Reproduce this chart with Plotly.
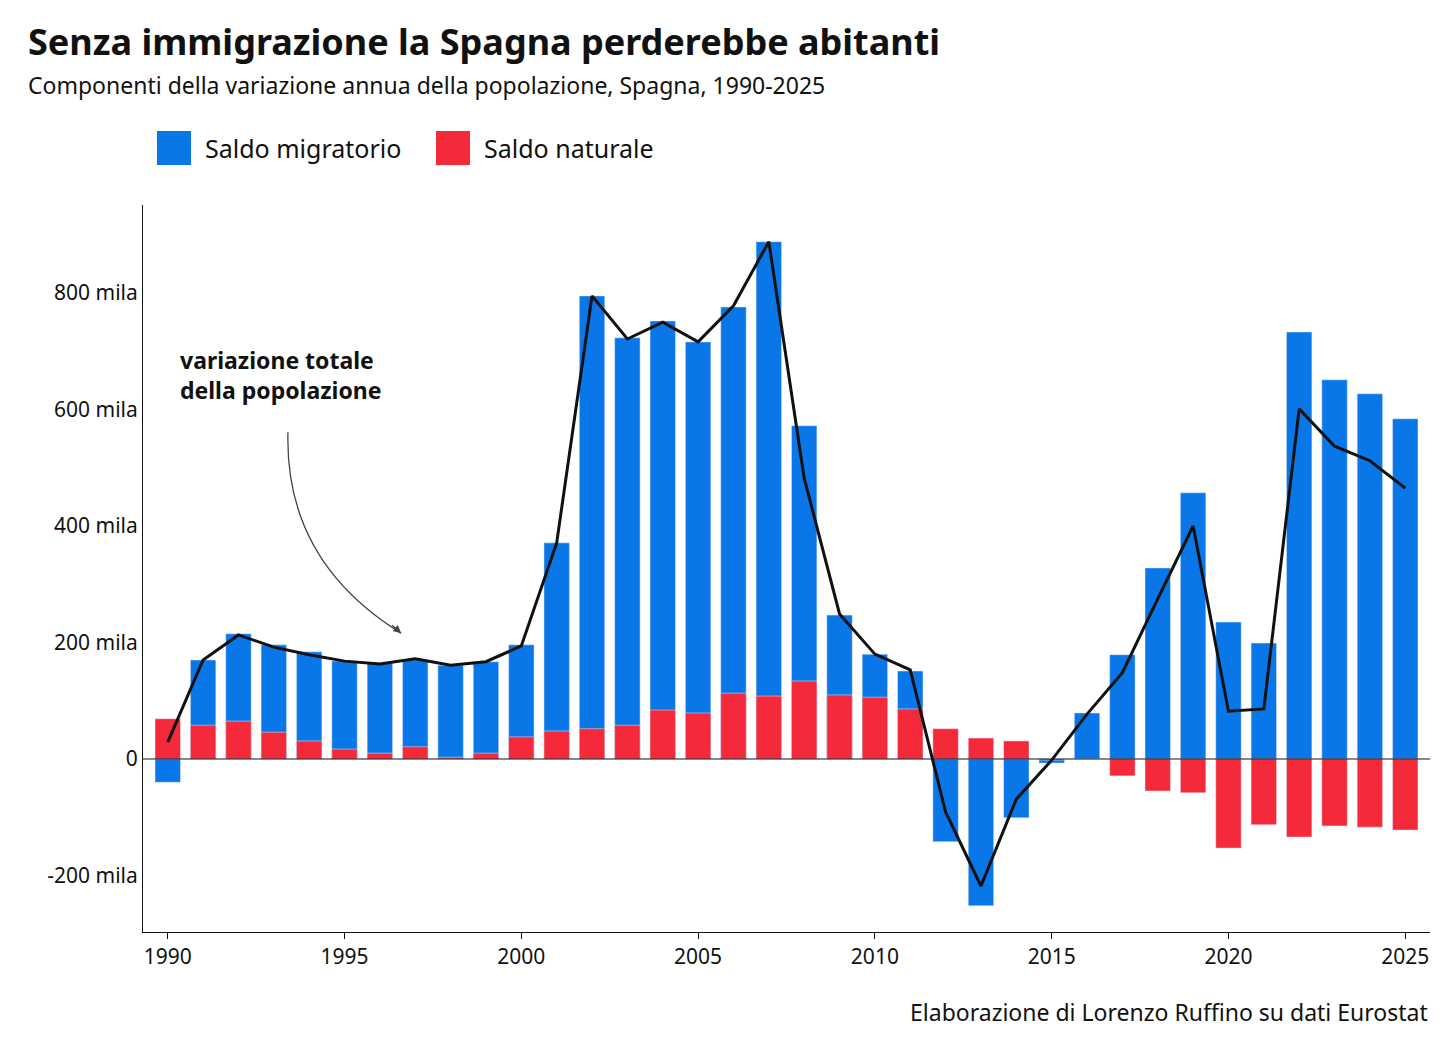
import plotly.graph_objects as go

years = list(range(1990, 2026))
migr = [-40,170,215,196,184,168,165,170,161,167,196,371,795,723,752,716,776,888,572,247,180,151,-142,-252,-101,-7,79,179,328,457,235,199,733,651,627,584]
natural = [69,58,65,46,31,17,10,21,3,10,38,48,52,58,84,79,113,108,134,110,106,86,52,36,31,-2,0,-29,-55,-58,-153,-113,-134,-115,-117,-122]
total = [29,170,213,192,179,168,163,172,161,167,194,371,795,721,750,716,778,888,482,249,180,153,-91,-218,-69,-2,77,148,275,400,82,86,601,537,512,465]
yticks = [-200, 0, 200, 400, 600, 800]
ylabels = ["-200 mila", "0", "200 mila", "400 mila", "600 mila", "800 mila"]
xticks = [1990, 1995, 2000, 2005, 2010, 2015, 2020, 2025]

F = "Noto Sans"
BLUE, RED = "#0a77e8", "#f42a3b"
W, H = 1456, 1052
L, R, T, B = 135, 34, 197, 128
pw, ph = W - L - R, H - T - B

def px(x): return (x - 8 - L) / pw
def py(y): return 1 - (y - 8 - T) / ph

fig = go.Figure()
fig.add_bar(x=years, y=migr, name="Saldo migratorio", marker_color=BLUE, width=0.72, showlegend=False)
fig.add_bar(x=years, y=natural, name="Saldo naturale", marker_color=RED, width=0.72, showlegend=False)
fig.add_scatter(x=years, y=total, mode="lines", line=dict(color="#111", width=3), showlegend=False)

fig.add_shape(type="path", path="M 1993.4,561 Q 1993.3,340 1996.6,216", xref="x", yref="y",
              line=dict(color="#444", width=1.3))
fig.add_annotation(x=1996.6, y=216, ax=1996.3, ay=232, axref="x", ayref="y", xref="x", yref="y",
                   text="", showarrow=True, arrowhead=2, arrowsize=1.2, arrowwidth=1.3, arrowcolor="#444")
fig.add_annotation(x=1990.3, y=660, xref="x", yref="y", xanchor="left", yanchor="middle", align="left",
                   showarrow=False, text="<b>variazione totale<br>della popolazione</b>",
                   font=dict(family=F, size=23, color="#111"))
fig.add_hline(y=0, line=dict(color="#111", width=1))

fig.add_annotation(x=px(26), y=py(42), xref="paper", yref="paper", xanchor="left", yanchor="middle", showarrow=False,
                   text="<b>Senza immigrazione la Spagna perderebbe abitanti</b>", font=dict(family=F, size=36, color="#111"))
fig.add_annotation(x=px(26), y=py(85), xref="paper", yref="paper", xanchor="left", yanchor="middle", showarrow=False,
                   text="Componenti della variazione annua della popolazione, Spagna, 1990-2025", font=dict(family=F, size=23, color="#111"))
for x0, col, lab, tx in [(157, BLUE, "Saldo migratorio", 203), (436, RED, "Saldo naturale", 482)]:
    fig.add_shape(type="rect", xref="paper", yref="paper", x0=px(x0), x1=px(x0 + 34), y0=py(165), y1=py(131),
                  fillcolor=col, line_width=0)
    fig.add_annotation(x=px(tx), y=py(148), xref="paper", yref="paper", xanchor="left", yanchor="middle",
                       showarrow=False, text=lab, font=dict(family=F, size=25, color="#111"))
fig.add_annotation(x=px(1430), y=py(1012), xref="paper", yref="paper", xanchor="right", yanchor="middle", showarrow=False,
                   text="Elaborazione di Lorenzo Ruffino su dati Eurostat", font=dict(size=23, family=F, color="#111"))

fig.update_layout(
    width=W, height=H, barmode="overlay", plot_bgcolor="white", paper_bgcolor="white",
    margin=dict(l=L, r=R, t=T, b=B), showlegend=False,
    font=dict(family=F, size=21, color="#111"),
    xaxis=dict(range=[1989.3, 2025.7], tickvals=xticks, showline=True, linecolor="#111", ticks="outside",
               ticklen=6, tickcolor="#111", showgrid=False, zeroline=False),
    yaxis=dict(range=[-297, 951], tickvals=yticks, ticktext=ylabels, showline=True, linecolor="#111",
               showgrid=False, zeroline=False, ticks=""),
)
fig.write_html("out.html")
